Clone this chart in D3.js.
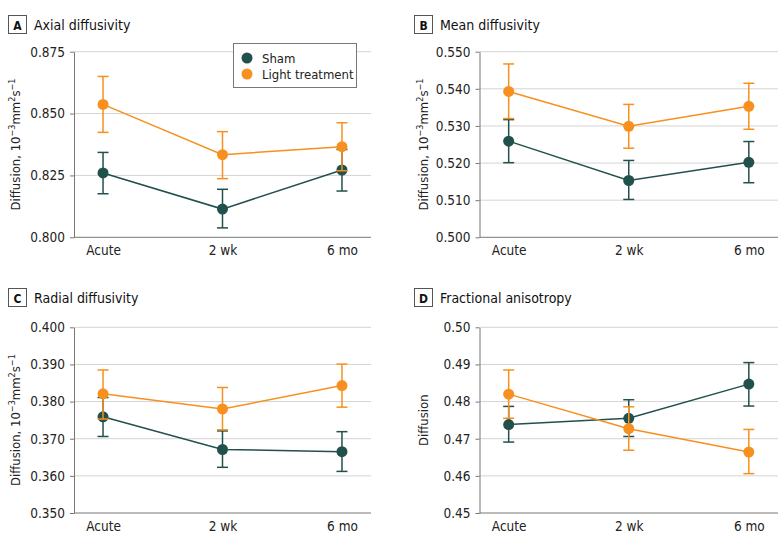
<!DOCTYPE html>
<html><head><meta charset="utf-8">
<script src="https://cdn.jsdelivr.net/npm/d3@7"></script>
<style>
html,body{margin:0;padding:0;background:#fff;}
svg{display:block;font-family:"Liberation Sans Narrow","DejaVu Sans Condensed","Open Sans",sans-serif;}
</style></head>
<body><svg id="c" width="780" height="546"></svg>
<script>
// ---- data ----
const categories = ["Acute", "2 wk", "6 mo"];
const seriesNames = ["Sham", "Light treatment"];

const axialTicks = [0.800, 0.825, 0.850, 0.875];
const axialSham = [0.8260, 0.8114, 0.8272];
const axialShamLo = [0.8176, 0.8038, 0.8187];
const axialShamHi = [0.8343, 0.8194, 0.8355];
const axialLight = [0.8537, 0.8334, 0.8366];
const axialLightLo = [0.8424, 0.8237, 0.8269];
const axialLightHi = [0.8650, 0.8427, 0.8463];

const meanTicks = [0.500, 0.510, 0.520, 0.530, 0.540, 0.550];
const meanSham = [0.5259, 0.5153, 0.5202];
const meanShamLo = [0.5201, 0.5102, 0.5147];
const meanShamHi = [0.5317, 0.5207, 0.5258];
const meanLight = [0.5393, 0.5299, 0.5353];
const meanLightLo = [0.5320, 0.5240, 0.5291];
const meanLightHi = [0.5467, 0.5358, 0.5415];

const radialTicks = [0.350, 0.360, 0.370, 0.380, 0.390, 0.400];
const radialSham = [0.3759, 0.3671, 0.3665];
const radialShamLo = [0.3706, 0.3623, 0.3612];
const radialShamHi = [0.3811, 0.3721, 0.3719];
const radialLight = [0.3821, 0.3780, 0.3843];
const radialLightLo = [0.3753, 0.3724, 0.3785];
const radialLightHi = [0.3885, 0.3838, 0.3901];

const faTicks = [0.45, 0.46, 0.47, 0.48, 0.49, 0.50];
const faSham = [0.4738, 0.4755, 0.4847];
const faShamLo = [0.4691, 0.4706, 0.4788];
const faShamHi = [0.4787, 0.4805, 0.4905];
const faLight = [0.4820, 0.4727, 0.4664];
const faLightLo = [0.4755, 0.4669, 0.4606];
const faLightHi = [0.4885, 0.4786, 0.4725];

// ---- layout / style ----
const colors = {"Sham": "#22504d", "Light treatment": "#f7901e"};
const FS = 13.5;
const svg = d3.select("#c");

const panels = [
  {letter:"A", title:"Axial diffusivity", x0:74, x1:371, yTop:51.7, yBot:237.3, ticks:axialTicks, fmt:".3f", units:true, legend:true,
   s:[axialSham, axialShamLo, axialShamHi], l:[axialLight, axialLightLo, axialLightHi], boxX:8, boxY:15, labelX:20},
  {letter:"B", title:"Mean diffusivity", x0:479.5, x1:778, yTop:51.7, yBot:237.3, ticks:meanTicks, fmt:".3f", units:true,
   s:[meanSham, meanShamLo, meanShamHi], l:[meanLight, meanLightLo, meanLightHi], boxX:414, boxY:15, labelX:428},
  {letter:"C", title:"Radial diffusivity", x0:74, x1:371, yTop:327.3, yBot:513, ticks:radialTicks, fmt:".3f", units:true,
   s:[radialSham, radialShamLo, radialShamHi], l:[radialLight, radialLightLo, radialLightHi], boxX:8, boxY:288, labelX:20},
  {letter:"D", title:"Fractional anisotropy", x0:479.5, x1:778, yTop:327.3, yBot:513, ticks:faTicks, fmt:".2f", units:false,
   s:[faSham, faShamLo, faShamHi], l:[faLight, faLightLo, faLightHi], boxX:414, boxY:288, labelX:428}
];

panels.forEach(p => {
  const g = svg.append("g");
  const x = d3.scalePoint().domain(categories).range([p.x0, p.x1]).padding(0.243);
  const y = d3.scaleLinear().domain(d3.extent(p.ticks)).range([p.yBot, p.yTop]);

  // title
  g.append("rect").attr("x", p.boxX + 0.5).attr("y", p.boxY + 0.5).attr("width", 18).attr("height", 18)
    .attr("fill", "#fff").attr("stroke", "#555").attr("stroke-width", 1);
  g.append("text").attr("x", p.boxX + 9.5).attr("y", p.boxY + 14.5).attr("text-anchor", "middle")
    .attr("font-size", 12).attr("font-weight", "bold").attr("fill", "#111").text(p.letter);
  g.append("text").attr("x", p.boxX + 26).attr("y", p.boxY + 14.5)
    .attr("font-size", 14).attr("fill", "#111").text(p.title);

  // gridlines
  g.append("g").selectAll("line").data(p.ticks.slice(1)).join("line")
    .attr("x1", p.x0).attr("x2", p.x1).attr("y1", d => y(d)).attr("y2", d => y(d))
    .attr("stroke", "#d4d4d4").attr("stroke-width", 1);

  // y axis
  const ya = g.append("g").attr("transform", `translate(${p.x0},0)`)
    .call(d3.axisLeft(y).tickValues(p.ticks).tickFormat(d3.format(p.fmt)).tickSize(4).tickSizeOuter(0).tickPadding(5));
  ya.attr("font-family", null);
  ya.select(".domain").attr("stroke", "#777");
  ya.selectAll(".tick line").attr("stroke", "#777");
  ya.selectAll(".tick text").attr("font-size", FS).attr("fill", "#222");

  // x axis
  const xa = g.append("g").attr("transform", `translate(0,${p.yBot})`)
    .call(d3.axisBottom(x).tickSize(0).tickPadding(8));
  xa.attr("font-family", null);
  xa.select(".domain").attr("stroke", "#777").attr("d", `M${p.x0},0H${p.x1}`);
  xa.selectAll(".tick text").attr("font-size", FS).attr("fill", "#222");

  // y label
  const yl = g.append("text")
    .attr("transform", `translate(${p.labelX},${(p.yTop + p.yBot) / 2}) rotate(-90)`)
    .attr("text-anchor", "middle").attr("font-size", 13).attr("fill", "#222");
  if (p.units) {
    yl.append("tspan").text("Diffusion, 10");
    yl.append("tspan").attr("dy", -5).attr("font-size", 9).text("\u22123");
    yl.append("tspan").attr("dy", 5).text("mm");
    yl.append("tspan").attr("dy", -5).attr("font-size", 9).text("2");
    yl.append("tspan").attr("dy", 5).text("s");
    yl.append("tspan").attr("dy", -5).attr("font-size", 9).text("\u22121");
  } else {
    yl.text("Diffusion");
  }

  // series
  [["Sham", p.s], ["Light treatment", p.l]].forEach(([name, arr]) => {
    const col = colors[name];
    const pts = categories.map((c, i) => ({c, v: arr[0][i], lo: arr[1][i], hi: arr[2][i]}));
    const sg = g.append("g");
    sg.append("path").datum(pts)
      .attr("d", d3.line().x(d => x(d.c)).y(d => y(d.v)))
      .attr("fill", "none").attr("stroke", col).attr("stroke-width", 1.5);
    const eb = sg.selectAll("g.eb").data(pts).join("g");
    eb.append("line").attr("x1", d => x(d.c)).attr("x2", d => x(d.c))
      .attr("y1", d => y(d.lo)).attr("y2", d => y(d.hi)).attr("stroke", col).attr("stroke-width", 1.5);
    eb.append("line").attr("x1", d => x(d.c) - 5.5).attr("x2", d => x(d.c) + 5.5)
      .attr("y1", d => y(d.hi)).attr("y2", d => y(d.hi)).attr("stroke", col).attr("stroke-width", 1.5);
    eb.append("line").attr("x1", d => x(d.c) - 5.5).attr("x2", d => x(d.c) + 5.5)
      .attr("y1", d => y(d.lo)).attr("y2", d => y(d.lo)).attr("stroke", col).attr("stroke-width", 1.5);
    sg.selectAll("circle").data(pts).join("circle")
      .attr("cx", d => x(d.c)).attr("cy", d => y(d.v)).attr("r", 5.5).attr("fill", col);
  });

  // legend
  if (p.legend) {
    const lg = g.append("g").attr("transform", "translate(233.5,43.5)");
    lg.append("rect").attr("width", 123).attr("height", 44).attr("fill", "#fff").attr("stroke", "#777");
    seriesNames.forEach((n, i) => {
      lg.append("circle").attr("cx", 13.5).attr("cy", 14.5 + i * 16).attr("r", 5.5).attr("fill", colors[n]);
      lg.append("text").attr("x", 28.5).attr("y", 19 + i * 16).attr("font-size", 13).attr("fill", "#222").text(n);
    });
  }
});
</script></body></html>
